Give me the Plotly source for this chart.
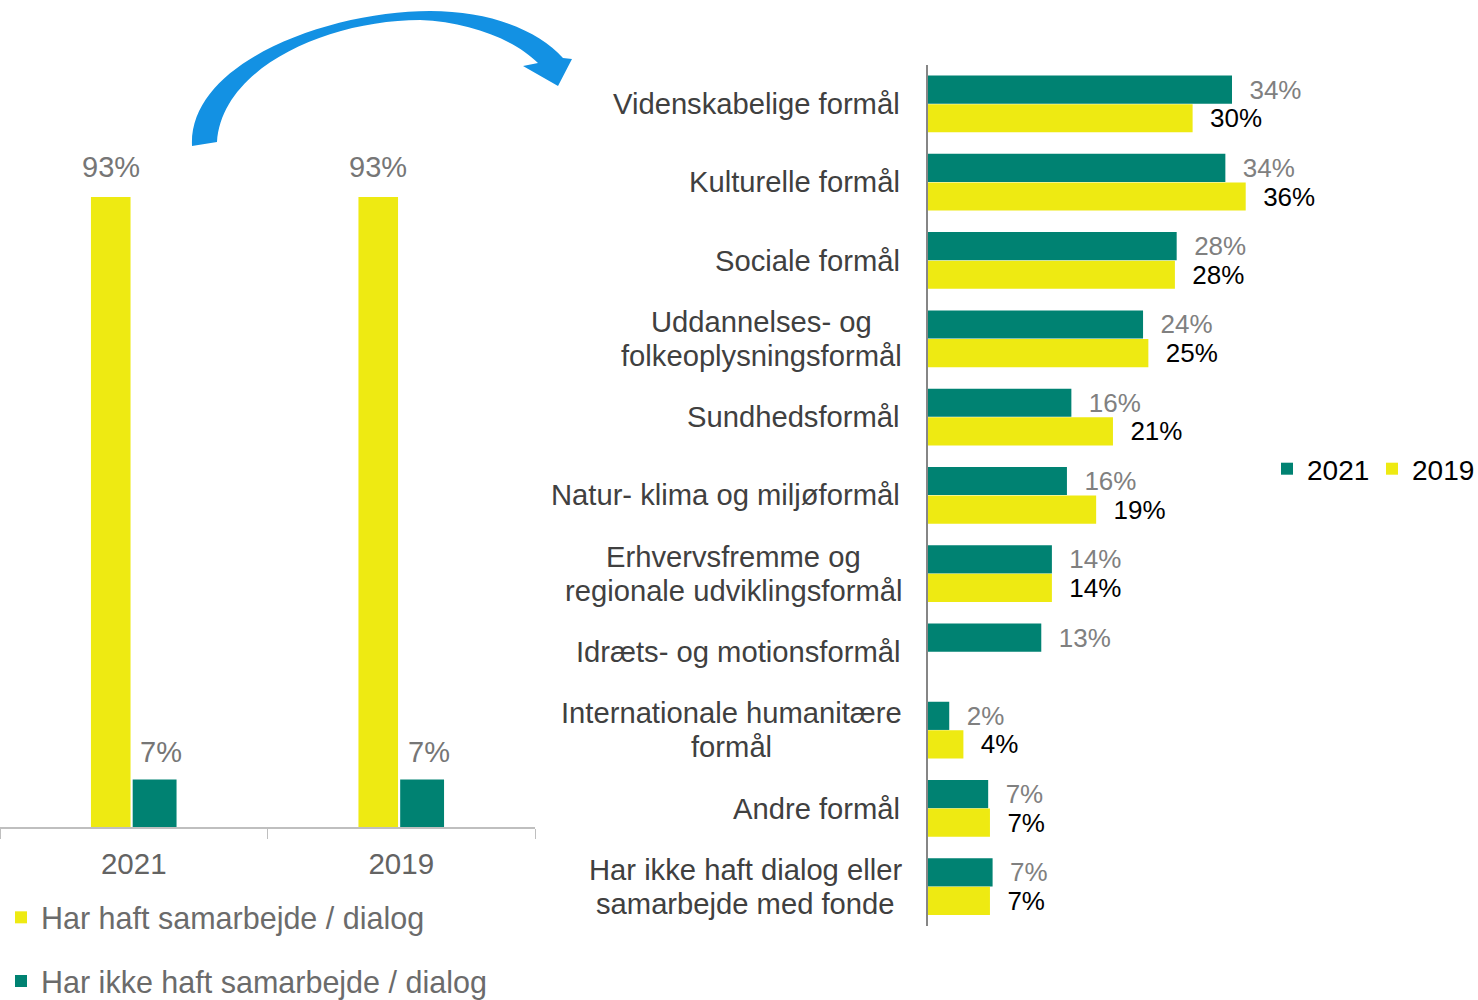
import plotly.graph_objects as go

# ---------------- data ----------------
left_categories = ["2021", "2019"]
left_had = [93, 93]            # Har haft samarbejde / dialog
left_not = [7, 7]              # Har ikke haft samarbejde / dialog
left_names = ["Har haft samarbejde / dialog", "Har ikke haft samarbejde / dialog"]

right_categories = [
    "Videnskabelige formål",
    "Kulturelle formål",
    "Sociale formål",
    "Uddannelses- og<br>folkeoplysningsformål",
    "Sundhedsformål",
    "Natur- klima og miljøformål",
    "Erhvervsfremme og<br>regionale udviklingsformål",
    "Idræts- og motionsformål",
    "Internationale humanitære<br>formål",
    "Andre formål",
    "Har ikke haft dialog eller<br>samarbejde med fonde",
]
values_2021 = [34.35, 33.6, 28.1, 24.3, 16.2, 15.7, 14.0, 12.8, 2.4, 6.8, 7.3]
values_2019 = [29.9, 35.9, 27.9, 24.9, 20.9, 19.0, 14.0, None, 4.0, 7.0, 7.0]
series_names = ["2021", "2019"]

# ---------------- style ----------------
TEAL = "#008272"
YELLOW = "#EEEA12"
FONT = "Liberation Sans, Arial, sans-serif"
W, H = 1478, 1000

fig = go.Figure()

# Left chart
fig.add_trace(go.Bar(
    x=left_categories, y=left_had, name=left_names[0],
    marker=dict(color=YELLOW, line=dict(width=0)),
    width=0.148, offset=-0.16,
    xaxis="x", yaxis="y", legend="legend", legendgroup="a",
    hoverinfo="x+y",
))
fig.add_trace(go.Bar(
    x=left_categories, y=left_not, name=left_names[1],
    marker=dict(color=TEAL, line=dict(width=0)),
    width=0.164, offset=-0.004,
    xaxis="x", yaxis="y", legend="legend", legendgroup="b",
    hoverinfo="x+y",
))

# Right chart
fig.add_trace(go.Bar(
    y=right_categories, x=values_2021, name=series_names[0], orientation="h",
    marker=dict(color=TEAL, line=dict(width=0)),
    width=0.36, offset=-0.365,
    texttemplate="\u00a0\u00a0%{x:.0f}%", textposition="outside",
    textfont=dict(size=26, color="#808080", family=FONT),
    cliponaxis=False, constraintext="none",
    xaxis="x2", yaxis="y2", legend="legend2",
))
fig.add_trace(go.Bar(
    y=right_categories, x=values_2019, name=series_names[1], orientation="h",
    marker=dict(color=YELLOW, line=dict(width=0)),
    width=0.36, offset=0.0,
    texttemplate="\u00a0\u00a0%{x:.0f}%", textposition="outside",
    textfont=dict(size=26, color="#000000", family=FONT),
    cliponaxis=False, constraintext="none",
    xaxis="x2", yaxis="y2", legend="legend2",
))

annotations = []
# Left value labels
for i, v in enumerate(left_had):
    annotations.append(dict(x=i - 0.16 + 0.074, y=v, xref="x", yref="y",
                            text=f"{v}%", showarrow=False, yanchor="bottom", yshift=12,
                            font=dict(size=29, color="#767676", family=FONT)))
for i, v in enumerate(left_not):
    annotations.append(dict(x=i - 0.004 + 0.082 + 0.025, y=v, xref="x", yref="y",
                            text=f"{v}%", showarrow=False, yanchor="bottom", yshift=10,
                            font=dict(size=29, color="#767676", family=FONT)))


def text_width_em(s):
    widths = {" ": .278, "-": .333, "å": .556, "æ": .889, "ø": .611, "/": .278}
    w = 0.0
    for ch in s:
        if ch in widths:
            w += widths[ch]
        elif ch in "ijl":
            w += .222
        elif ch in "ftI":
            w += .278
        elif ch == "r":
            w += .333
        elif ch in "mw":
            w += .833
        elif ch in "ksvyzx":
            w += .5
        elif ch.isupper():
            w += .722
        else:
            w += .556
    return w


# Right category labels (centered multi-line, tighter line spacing)
LABEL_SIZE = 29.2
LINE = 34
for c in right_categories:
    lines = c.split("<br>")
    n = len(lines)
    block = max(text_width_em(l) for l in lines) * LABEL_SIZE
    for j, line in enumerate(lines):
        annotations.append(dict(x=902 / W, y=c, xref="paper", yref="y2",
                                text=line, showarrow=False,
                                xanchor="center" if n > 1 else "right",
                                xshift=-block / 2 if n > 1 else 0,
                                yshift=((n - 1) / 2 - j) * LINE,
                                font=dict(size=LABEL_SIZE, color="#404040", family=FONT)))

# Curved arrow (decoration)
def px(x, y):
    return f"{x / W:.5f},{1 - y / H:.5f}"

arrow_path = (
    "M" + px(192, 146)
    + " C" + px(188, 62) + " " + px(330, 11) + " " + px(430, 11)
    + " C" + px(490, 11) + " " + px(538, 30) + " " + px(563, 58)
    + " L" + px(572, 59)
    + " L" + px(558, 86)
    + " L" + px(523, 66)
    + " L" + px(538, 63)
    + " C" + px(515, 40) + " " + px(470, 22) + " " + px(420, 20)
    + " C" + px(330, 20) + " " + px(222, 66) + " " + px(217, 142)
    + " Z"
)

fig.update_layout(
    width=W, height=H,
    margin=dict(l=0, r=0, t=0, b=0, autoexpand=False),
    paper_bgcolor="white", plot_bgcolor="white",
    font=dict(family=FONT),
    barmode="overlay",
    showlegend=True,
    xaxis=dict(domain=[0, 535 / W], type="category",
               showline=True, linecolor="#BFBFBF", linewidth=1.5,
               ticks="outside", tickson="boundaries", ticklen=10, tickcolor="#BFBFBF",
               tickfont=dict(size=29.5, color="#636363", family=FONT),
               ticklabelstandoff=10, showgrid=False, zeroline=False, fixedrange=True,
               automargin=False),
    yaxis=dict(domain=[1 - 827 / H, 1 - 149.6 / H], range=[0, 100],
               visible=False, showgrid=False, zeroline=False, fixedrange=True),
    xaxis2=dict(domain=[928 / W, (928 + 40 * 8.85) / W], range=[0, 40],
                visible=False, showgrid=False, zeroline=False, fixedrange=True),
    yaxis2=dict(domain=[1 - 926 / H, 1 - 65 / H], type="category", autorange="reversed",
                showline=True, linecolor="#868686", linewidth=1.5,
                showticklabels=False, ticks="", showgrid=False, zeroline=False,
                anchor="x2", fixedrange=True),
    legend=dict(x=1 / W, y=1 - 891 / H, xanchor="left", yanchor="top",
                orientation="v", traceorder="grouped", tracegroupgap=21,
                font=dict(size=30.5, color="#6B6B6B", family=FONT),
                bgcolor="rgba(0,0,0,0)", itemclick=False, itemdoubleclick=False),
    legend2=dict(x=1267 / W, y=1 - 469 / H, xanchor="left", yanchor="middle",
                 orientation="h", itemwidth=30, entrywidth=60,
                 font=dict(size=28, color="#000000", family=FONT),
                 bgcolor="rgba(0,0,0,0)", itemclick=False, itemdoubleclick=False),
    annotations=annotations,
    shapes=[dict(type="path", xref="paper", yref="paper", path=arrow_path,
                 fillcolor="#1391E3", line=dict(width=0), layer="above")],
)

fig.write_html(
    "out.html",
    config={"displayModeBar": False},
    post_script=(
        "document.body.style.margin='0';"
        "document.body.style.overflow='hidden';"
        "document.documentElement.style.overflow='hidden';"
    ),
)
